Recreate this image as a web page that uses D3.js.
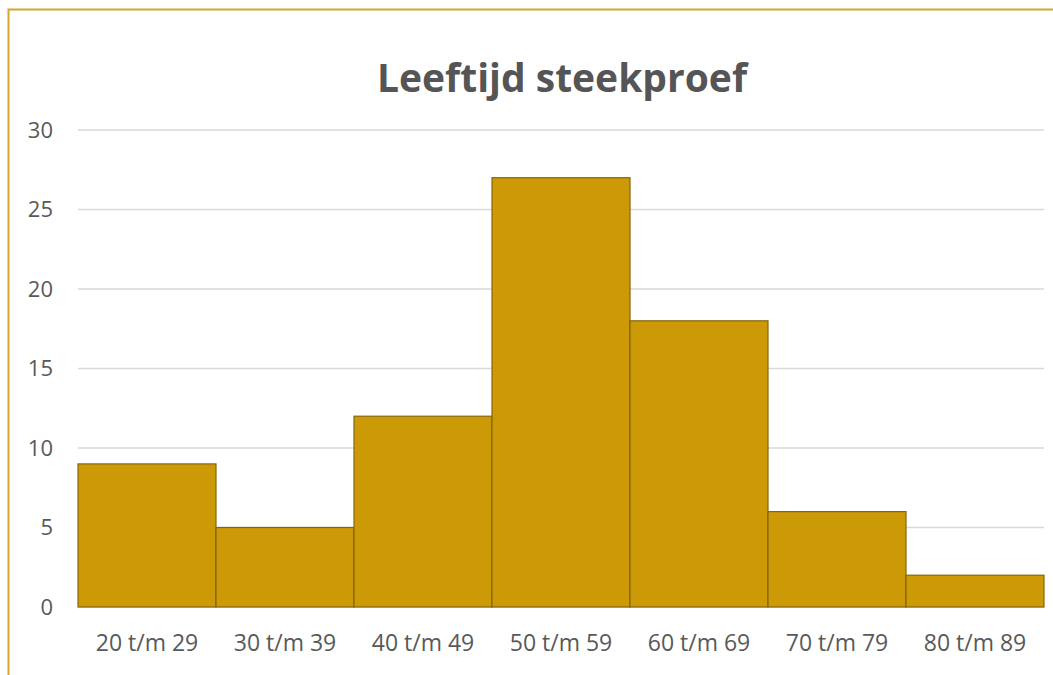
<!DOCTYPE html>
<html>
<head>
<meta charset="utf-8">
<script src="https://cdn.jsdelivr.net/npm/d3@7"></script>
<style>
  body { margin: 0; background: #fff; }
  text { font-family: "Open Sans", "Noto Sans", sans-serif; }
</style>
</head>
<body>
<div id="chart"></div>
<script>
const categories = ["20 t/m 29", "30 t/m 39", "40 t/m 49", "50 t/m 59", "60 t/m 69", "70 t/m 79", "80 t/m 89"];
const counts = [9, 5, 12, 27, 18, 6, 2];
const yTicks = [0, 5, 10, 15, 20, 25, 30];
const chartTitle = "Leeftijd steekproef";

const width = 1053;
const height = 675;
const margin = { top: 130, right: 9, bottom: 68, left: 78 };

const svg = d3.select("#chart")
    .append("svg")
    .attr("width", width)
    .attr("height", height);

// outer frame (runs off the right/bottom edge in the original)
svg.append("rect")
    .attr("x", 8.5)
    .attr("y", 9.5)
    .attr("width", width + 20)
    .attr("height", height + 20)
    .attr("fill", "none")
    .attr("stroke", "#d4a630")
    .attr("stroke-width", 2);

const x = d3.scaleBand()
    .domain(categories)
    .range([margin.left, width - margin.right])
    .padding(0);

const y = d3.scaleLinear()
    .domain([0, 30])
    .range([height - margin.bottom, margin.top]);

// gridlines
svg.append("g")
    .selectAll("line")
    .data(yTicks)
    .enter()
    .append("line")
    .attr("x1", margin.left)
    .attr("x2", width - margin.right)
    .attr("y1", d => y(d))
    .attr("y2", d => y(d))
    .attr("stroke", "#d9d9d9")
    .attr("stroke-width", 1.5);

// bars
svg.append("g")
    .selectAll("rect")
    .data(counts)
    .enter()
    .append("rect")
    .attr("x", (d, i) => x(categories[i]))
    .attr("y", d => y(d))
    .attr("width", x.bandwidth())
    .attr("height", d => y(0) - y(d))
    .attr("fill", "#cc9a06")
    .attr("stroke", "#86660a")
    .attr("stroke-width", 1.2);

// y axis labels
svg.append("g")
    .selectAll("text")
    .data(yTicks)
    .enter()
    .append("text")
    .attr("x", 53)
    .attr("y", d => y(d))
    .attr("dy", "0.35em")
    .attr("text-anchor", "end")
    .attr("fill", "#595959")
    .style("font-size", "22px")
    .text(d => d);

// x axis labels
svg.append("g")
    .selectAll("text")
    .data(categories)
    .enter()
    .append("text")
    .attr("x", d => x(d) + x.bandwidth() / 2)
    .attr("y", height - margin.bottom + 36)
    .attr("dy", "0.35em")
    .attr("text-anchor", "middle")
    .attr("fill", "#595959")
    .style("font-size", "23px")
    .text(d => d);

// title
svg.append("text")
    .attr("x", 562)
    .attr("y", 92)
    .attr("text-anchor", "middle")
    .attr("fill", "#555555")
    .style("font-size", "39px")
    .style("font-weight", "bold")
    .text(chartTitle);
</script>
</body>
</html>
